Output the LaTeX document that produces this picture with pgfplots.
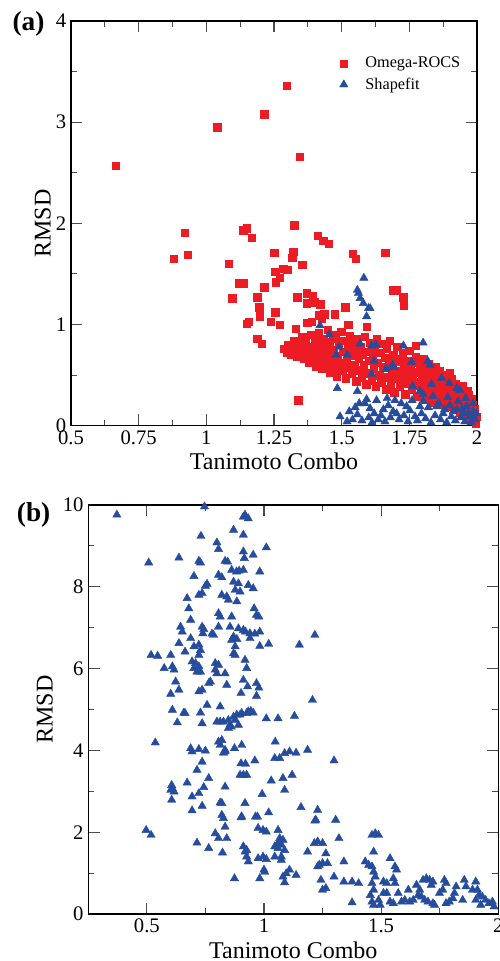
\documentclass[border=0pt]{standalone}
\usepackage{fontspec}
\setmainfont{Liberation Serif}
\usepackage{pgfplots}
\pgfplotsset{compat=1.18}
\definecolor{rred}{RGB}{237,28,36}
\definecolor{bblue}{RGB}{38,76,158}
\pgfplotsset{
  common/.style={
    scale only axis, clip=false,
    axis line style={line width=0.9pt},
    tick align=inside, major tick length=8.5pt, minor tick length=4.5pt,
    tick style={line width=0.8pt, black!70},
    tick label style={font=\fontsize{15.5}{17}\selectfont},
    /pgf/number format/assume math mode=true,
    label style={font=\fontsize{18}{20}\selectfont},
    xlabel style={at={(axis description cs:0.5,-0.109)}, anchor=base},
  },
  myleg/.style={legend image code/.code={\draw[##1] plot coordinates {(0.35cm,0cm)}; \path (0cm,0cm) (0.84cm,0cm);}},
  rsq/.style={only marks, mark=square*, mark size=2.8pt, mark options={draw=rred, fill=rred, line width=0.3pt}, myleg},
  btri/.style={only marks, mark=triangle*, mark size=3.6pt, mark options={draw=bblue, fill=bblue, line width=0.3pt}, myleg},
}
\begin{document}
\begin{tikzpicture}
\useasboundingbox (0,0) rectangle (375pt,720.75pt);
\node[anchor=base west, font=\fontsize{20.5}{22}\selectfont\bfseries, inner sep=0pt] at (9.2pt,697.6pt) {(a)};
\node[anchor=base west, font=\fontsize{20.5}{22}\selectfont\bfseries, inner sep=0pt] at (12.5pt,329.25pt) {(b)};
\begin{axis}[common,
  at={(53.25pt,401.5pt)}, anchor=south west, width=304.5pt, height=303.5pt,
  xmin=0.5, xmax=2, ymin=0, ymax=4,
  xtick={0.5,0.75,1,1.25,1.5,1.75,2}, xticklabels={0.5,0.75,1,1.25,1.5,1.75,2},
  minor xtick={0.625,0.875,1.125,1.375,1.625,1.875},
  ytick={0,1,2,3,4}, minor ytick={0.5,1.5,2.5,3.5},
  xlabel={Tanimoto Combo}, ylabel={RMSD},
  ylabel style={at={(axis description cs:-0.049,0.5)}, anchor=south, inner sep=0pt},
  legend style={at={(axis description cs:0.638,0.918)}, anchor=north west, draw=none, fill=none,
    font=\fontsize{12.2}{14}\selectfont, row sep=2pt, inner sep=0pt},
  legend cell align=left,
]
\addplot[rsq] coordinates {
(0.666,2.57) (1.040,2.95) (0.921,1.91) (0.880,1.65) (0.931,1.69) (1.137,1.93) (1.149,1.95)
(1.297,3.36) (1.214,3.08) (1.345,2.66) (1.325,1.98) (1.167,1.86) (1.411,1.88) (1.432,1.83)
(1.453,1.80) (1.250,1.71) (1.321,1.72) (1.318,1.66) (1.082,1.60) (1.354,1.59) (1.541,1.70)
(1.552,1.65) (1.660,1.71) (1.254,1.52) (1.284,1.55) (1.299,1.54) (1.272,1.46) (1.257,1.42)
(1.119,1.41) (1.137,1.41) (1.214,1.37) (1.096,1.26) (1.188,1.27) (1.336,1.27) (1.371,1.31)
(1.393,1.28) (1.371,1.21) (1.398,1.22) (1.420,1.20) (1.513,1.17) (1.196,1.17) (1.198,1.08)
(1.255,1.12) (1.436,1.10) (1.417,1.09) (1.475,1.10) (1.150,1.01) (1.156,1.03) (1.238,1.03)
(1.272,1.00) (1.331,0.96) (1.373,1.02) (1.389,1.03) (1.524,1.00) (1.188,0.86) (1.204,0.81)
(1.340,0.25) (1.691,1.34) (1.703,1.34) (1.728,1.27) (1.730,1.19) (1.592,0.98) (1.773,0.79)
(1.968,0.30) (1.980,0.26) (1.900,0.52) (1.426,1.06)
(1.285,0.76) (1.298,0.72) (1.300,0.80) (1.310,0.75) (1.312,0.70) (1.318,0.78) (1.322,0.84)
(1.330,0.73) (1.336,0.68) (1.342,0.77) (1.348,0.81) (1.350,0.71)
(1.355,0.88) (1.360,0.66) (1.365,0.75) (1.368,0.82) (1.372,0.70) (1.378,0.62) (1.382,0.78)
(1.386,0.90) (1.390,0.67) (1.395,0.74) (1.400,0.84) (1.404,0.59) (1.408,0.70) (1.412,0.80)
(1.416,0.92) (1.420,0.64) (1.424,0.75) (1.428,0.57) (1.432,0.86) (1.436,0.69) (1.440,0.78)
(1.444,0.61) (1.448,0.95) (1.450,0.72)
(1.454,0.83) (1.458,0.53) (1.462,0.66) (1.466,0.90) (1.470,0.75) (1.474,0.58) (1.478,0.86)
(1.482,0.49) (1.486,0.69) (1.490,0.80) (1.494,0.62) (1.498,0.93) (1.502,0.55) (1.506,0.73)
(1.510,0.84) (1.514,0.47) (1.518,0.64) (1.522,0.77) (1.526,0.58) (1.530,0.89) (1.534,0.69)
(1.538,0.52) (1.542,0.81) (1.546,0.60) (1.550,0.74)
(1.554,0.44) (1.558,0.86) (1.562,0.66) (1.566,0.55) (1.570,0.78) (1.574,0.48) (1.578,0.70)
(1.582,0.60) (1.586,0.88) (1.590,0.41) (1.594,0.73) (1.598,0.52) (1.602,0.64) (1.606,0.82)
(1.610,0.45) (1.614,0.69) (1.618,0.57) (1.622,0.77) (1.626,0.39) (1.630,0.86) (1.634,0.62)
(1.638,0.50) (1.642,0.72) (1.646,0.43) (1.650,0.81)
(1.654,0.58) (1.658,0.67) (1.662,0.36) (1.666,0.76) (1.670,0.48) (1.674,0.62) (1.678,0.84)
(1.682,0.41) (1.686,0.55) (1.690,0.70) (1.694,0.33) (1.698,0.63) (1.702,0.47) (1.706,0.78)
(1.710,0.54) (1.714,0.39) (1.718,0.66) (1.722,0.45) (1.726,0.72) (1.730,0.58) (1.734,0.31)
(1.738,0.51) (1.742,0.64) (1.746,0.42) (1.750,0.74) (1.754,0.56) (1.758,0.36) (1.762,0.49)
(1.766,0.62) (1.770,0.43) (1.774,0.68) (1.778,0.29)
(1.782,0.53) (1.786,0.40) (1.790,0.60) (1.794,0.33) (1.798,0.48) (1.802,0.66) (1.806,0.26)
(1.810,0.44) (1.814,0.55) (1.818,0.37) (1.822,0.61) (1.826,0.30) (1.830,0.47) (1.834,0.52)
(1.838,0.23) (1.842,0.41) (1.846,0.58) (1.850,0.34) (1.854,0.46) (1.858,0.27) (1.862,0.54)
(1.866,0.38) (1.870,0.21) (1.874,0.44) (1.878,0.31) (1.882,0.50) (1.886,0.36) (1.890,0.25)
(1.894,0.42) (1.898,0.19)
(1.902,0.33) (1.906,0.46) (1.910,0.27) (1.914,0.38) (1.918,0.17) (1.922,0.41) (1.926,0.30)
(1.930,0.22) (1.934,0.36) (1.938,0.13) (1.942,0.28) (1.946,0.39) (1.950,0.19) (1.954,0.31)
(1.958,0.10) (1.962,0.24) (1.966,0.34) (1.970,0.15) (1.974,0.26) (1.978,0.07) (1.982,0.20)
(1.986,0.12) (1.990,0.17) (1.994,0.05) (1.998,0.09) (1.996,0.02)
};
\addlegendentry{Omega-ROCS}
\addplot[btri] coordinates {
(1.582,1.46) (1.558,1.34) (1.562,1.31) (1.568,1.26) (1.580,1.21) (1.599,1.16) (1.605,1.16)
(1.592,1.08) (1.420,0.99) (1.454,0.90) (1.491,0.78) (1.479,0.70) (1.521,0.70) (1.568,0.81)
(1.611,0.79) (1.627,0.80) (1.619,0.64) (1.611,0.51) (1.688,0.60) (1.693,0.58) (1.664,0.56)
(1.728,0.79) (1.801,0.82) (1.758,0.63) (1.818,0.64) (1.826,0.60) (1.484,0.37) (1.558,0.34)
(1.762,0.39) (1.789,0.34) (1.801,0.31) (1.832,0.41) (1.869,0.47) (1.897,0.42) (1.925,0.37)
(1.937,0.35)
(1.494,0.09) (1.528,0.14) (1.558,0.11) (1.586,0.22) (1.592,0.26) (1.605,0.17) (1.629,0.25)
(1.654,0.16) (1.672,0.20) (1.697,0.25) (1.703,0.12) (1.740,0.19) (1.771,0.09) (1.789,0.19)
(1.801,0.24) (1.838,0.29) (1.851,0.19) (1.875,0.12) (1.900,0.20) (1.925,0.16) (1.949,0.12)
(1.962,0.19) (1.974,0.09) (1.986,0.14) (1.993,0.06)
(1.575,0.05) (1.600,0.08) (1.612,0.03) (1.620,0.12) (1.635,0.06) (1.645,0.10) (1.660,0.04)
(1.668,0.27) (1.680,0.08) (1.690,0.14) (1.712,0.06) (1.720,0.22) (1.730,0.10) (1.745,0.04)
(1.752,0.15) (1.760,0.25) (1.780,0.05) (1.795,0.12) (1.810,0.07) (1.820,0.18) (1.830,0.03)
(1.845,0.10) (1.858,0.22) (1.865,0.06) (1.880,0.16) (1.888,0.03) (1.892,0.28) (1.905,0.09)
(1.912,0.14) (1.920,0.05) (1.930,0.24) (1.940,0.08) (1.945,0.17) (1.955,0.04) (1.958,0.27)
(1.968,0.12) (1.978,0.03) (1.985,0.22) (1.990,0.08) (1.998,0.12) (1.550,0.18) (1.565,0.22)
(1.540,0.06) (1.520,0.04)
};
\addlegendentry{Shapefit}
\end{axis}
\begin{axis}[common,
  at={(66.2pt,35.25pt)}, anchor=south west, width=307.5pt, height=306.75pt,
  xmin=0.25, xmax=2, ymin=0, ymax=10,
  xtick={0.5,1,1.5,2}, xticklabels={0.5,1,1.5,2},
  minor xtick={0.25,0.75,1.25,1.75},
  ytick={0,2,4,6,8,10}, minor ytick={1,3,5,7,9},
  xlabel={Tanimoto Combo}, ylabel={RMSD},
  ylabel style={at={(axis description cs:-0.086,0.5)}, anchor=south, inner sep=0pt},
]
\addplot[btri] coordinates {
(0.372,9.76) (0.746,9.96) (0.508,8.59) (0.637,8.71) (0.912,9.71) (0.919,9.76) (0.870,9.39)
(0.731,9.24) (0.912,9.27) (0.799,9.08) (0.806,8.92) (0.722,8.63) (0.729,8.59) (0.834,8.63)
(0.845,8.61) (0.912,8.86) (0.916,8.70) (0.954,8.78) (1.010,8.96) (0.933,9.67) (0.701,8.26)
(0.806,8.29) (0.820,8.23) (0.862,8.41) (0.883,8.37) (0.894,8.39) (0.912,8.41) (0.982,8.37)
(0.750,8.02) (0.757,8.07) (0.870,8.12) (0.891,8.08) (0.933,8.04) (0.954,7.96) (0.722,7.80)
(0.736,7.84) (0.672,7.72) (0.820,7.80) (0.841,7.76) (0.848,7.68) (0.877,7.92) (0.898,7.88)
(0.884,7.64) (0.679,7.47) (0.958,7.47) (0.968,7.31) (0.978,7.27) (0.687,7.19) (0.806,7.35)
(0.813,7.27) (0.862,7.27) (0.644,7.02) (0.651,6.90) (0.736,7.02) (0.743,6.96) (0.739,6.86)
(0.806,7.02) (0.855,7.02) (0.891,6.98) (0.912,6.94) (0.921,6.90) (0.940,6.86) (0.961,6.85)
(0.982,6.90) (0.778,6.85) (0.785,6.82) (0.870,6.78) (0.884,6.72) (0.940,6.74) (1.217,6.82)
(0.637,6.62) (0.687,6.74) (0.701,6.54) (0.722,6.58) (0.729,6.45) (0.722,6.33) (0.862,6.70)
(0.877,6.54) (0.870,6.37) (0.877,6.33) (0.982,6.55) (1.020,6.60) (1.151,6.58) (0.663,6.41)
(0.518,6.33) (0.546,6.31) (0.602,6.33) (0.574,6.01) (0.609,6.05) (0.616,5.97) (0.693,6.17)
(0.708,6.13) (0.701,6.01) (0.722,6.05) (0.729,5.92) (0.714,5.92) (0.792,6.13) (0.792,5.97)
(0.806,6.09) (0.919,6.21) (0.926,6.01) (0.834,5.88) (0.799,5.88) (0.623,5.68) (0.637,5.48)
(0.602,5.38) (0.722,5.44) (0.736,5.48) (0.771,5.68) (0.764,5.64) (0.841,5.60) (0.912,5.72)
(0.968,5.64) (0.978,5.53) (0.930,5.56) (0.902,5.40) (0.968,5.33) (1.207,5.23) (0.609,4.99)
(0.658,4.92) (0.729,4.92) (0.757,5.11) (0.813,5.07) (0.663,4.91) (0.884,4.87) (0.905,4.91)
(0.933,4.95) (0.944,4.96) (0.954,4.92) (1.010,4.78) (1.060,4.78) (1.130,4.84) (0.799,4.70)
(0.813,4.70) (0.827,4.70) (0.848,4.74) (0.870,4.82) (0.877,4.74) (0.630,4.68) (0.736,4.66)
(0.860,4.58) (0.891,4.62) (0.855,4.62) (0.848,4.54) (0.898,4.87) (0.926,4.91) (0.536,4.19)
(0.687,4.05) (0.693,3.97) (0.722,4.03) (0.750,3.99) (0.806,4.21) (0.813,4.13) (0.834,4.01)
(0.827,3.94) (0.874,4.05) (0.905,4.13) (0.820,4.25) (0.834,3.97) (1.048,4.21) (1.046,3.81)
(1.067,3.81) (1.088,3.93) (1.109,3.97) (1.137,3.94) (1.186,4.01) (0.736,3.72) (0.714,3.52)
(0.902,3.68) (0.921,3.67) (0.961,3.75) (1.299,3.75) (0.764,3.32) (0.898,3.40) (0.912,3.40)
(0.926,3.40) (1.031,3.26) (1.081,3.32) (1.120,3.40) (0.672,3.21) (0.606,3.15) (0.609,3.07)
(0.616,2.99) (0.602,3.03) (0.606,2.79) (0.743,3.10) (0.722,2.95) (0.834,3.11) (1.088,3.03)
(0.693,2.87) (0.992,2.93) (0.813,2.72) (0.820,2.71) (0.919,2.71) (0.736,2.64) (1.158,2.61)
(1.229,2.54) (0.693,2.53) (1.020,2.48) (0.820,2.42) (0.827,2.34) (0.905,2.38) (0.902,2.36)
(0.964,2.38) (0.972,2.38) (1.217,2.28) (1.221,2.30) (1.306,2.30) (0.834,2.13) (0.975,2.10)
(0.996,2.05) (1.010,2.01) (1.060,2.05) (0.497,2.05) (0.518,1.93) (0.792,1.97) (0.806,1.85)
(0.841,1.85) (1.067,1.85) (1.081,1.81) (1.320,1.85) (1.461,1.93) (1.475,1.97) (1.489,1.93)
(0.714,1.74) (1.074,1.69) (1.052,1.65) (1.060,1.73) (1.046,1.65) (1.060,1.61) (0.764,1.61)
(0.912,1.65) (0.919,1.52) (0.823,1.50) (1.088,1.56) (1.186,1.52) (1.215,1.73) (1.229,1.77)
(1.250,1.73) (1.264,1.48) (1.468,1.52) (0.926,1.40) (0.975,1.36) (0.996,1.40) (1.010,1.34)
(1.046,1.40) (1.074,1.40) (1.074,1.32) (1.341,1.28) (1.432,1.28) (1.538,1.36) (1.229,1.16)
(1.250,1.24) (1.271,1.24) (1.236,1.20) (1.447,1.20) (1.461,1.16) (1.559,1.16) (1.566,1.08)
(1.000,1.08) (1.003,1.03) (1.109,1.08) (1.468,1.03) (1.095,0.99) (1.137,0.95) (0.874,0.87)
(0.982,0.87) (1.081,0.91) (1.299,0.91) (1.475,0.91) (1.552,0.87) (1.243,0.83) (1.088,0.77)
(1.341,0.79) (1.376,0.79) (1.404,0.75) (1.461,0.75) (1.510,0.79) (1.524,0.75) (1.559,0.75)
(1.679,0.83) (1.693,0.87) (1.707,0.83) (1.721,0.79) (1.770,0.83) (1.855,0.83) (1.904,0.79)
(1.777,0.75) (1.714,0.71) (1.651,0.71) (1.820,0.67) (1.862,0.67) (1.250,0.59) (1.264,0.63)
(1.468,0.59) (1.616,0.59) (1.665,0.59) (1.763,0.59) (1.911,0.59) (1.890,0.59) (1.454,0.46)
(1.510,0.51) (1.524,0.51) (1.573,0.51) (1.749,0.51) (1.813,0.51) (1.658,0.46) (1.672,0.42)
(1.918,0.46) (1.932,0.42) (1.806,0.38) (1.461,0.30) (1.489,0.34) (1.538,0.30) (1.587,0.30)
(1.601,0.34) (1.622,0.30) (1.637,0.34) (1.686,0.34) (1.700,0.30) (1.791,0.30) (1.848,0.34)
(1.904,0.34) (1.946,0.34) (1.975,0.30) (1.960,0.26) (1.376,0.28) (1.468,0.22) (1.496,0.22)
(1.552,0.26) (1.721,0.26) (1.728,0.22) (1.777,0.26) (1.925,0.22) (1.982,0.18) (0.926,1.56)
(0.933,1.28)
};
\end{axis}
\end{tikzpicture}
\end{document}
